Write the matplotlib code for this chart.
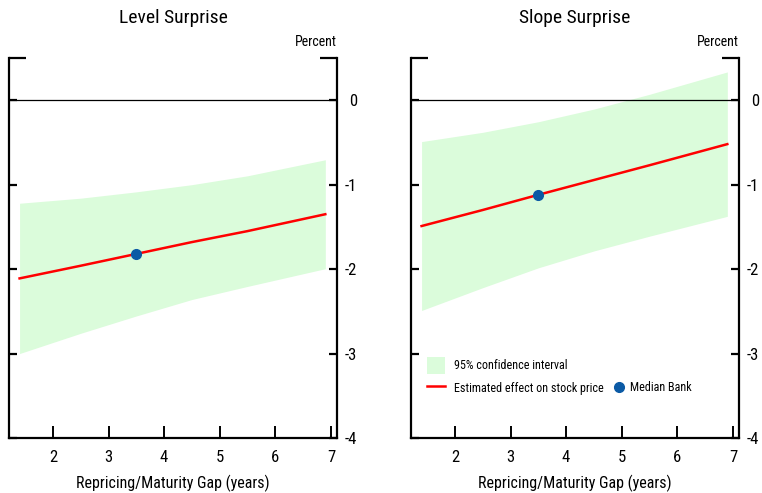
import matplotlib
matplotlib.use("Agg")
import matplotlib.pyplot as plt
from matplotlib.lines import Line2D
from matplotlib.patches import Patch

plt.rcParams['font.family'] = ['Roboto Condensed', 'Liberation Sans', 'DejaVu Sans']

# ---- data ----
gap = [1.4, 2.5, 3.5, 4.5, 5.5, 6.9]

level_effect = [-2.11, -1.96, -1.82, -1.68, -1.55, -1.35]
level_upper = [-1.22, -1.16, -1.085, -1.00, -0.895, -0.705]
level_lower = [-3.00, -2.76, -2.555, -2.36, -2.205, -1.995]
level_median = (3.49, -1.82)

slope_effect = [-1.49, -1.30, -1.12, -0.945, -0.77, -0.52]
slope_upper = [-0.49, -0.38, -0.255, -0.105, 0.07, 0.335]
slope_lower = [-2.49, -2.22, -1.985, -1.785, -1.61, -1.375]
slope_median = (3.49, -1.12)

titles = ["Level Surprise", "Slope Surprise"]
xticks = [2, 3, 4, 5, 6, 7]
yticks = [0, -1, -2, -3, -4]
xlabel = "Repricing/Maturity Gap (years)"
unit = "Percent"
legend_labels = ["95% confidence interval", "Estimated effect on stock price", "Median Bank"]

GREEN = '#dbfcdb'
RED = '#ff0000'
BLUE = '#0b5aa5'

fig = plt.figure(figsize=(7.62, 4.93), dpi=100)
W, H = 762, 493
boxes = [(9, 337), (411, 739)]
top_px, bot_px = 58, 438

panels = [
    (level_effect, level_upper, level_lower, level_median),
    (slope_effect, slope_upper, slope_lower, slope_median),
]

axes = []
for i, ((x0, x1), (eff, up, lo, med)) in enumerate(zip(boxes, panels)):
    ax = fig.add_axes([x0 / W, 1 - bot_px / H, (x1 - x0) / W, (bot_px - top_px) / H])
    axes.append(ax)
    ax.fill_between(gap, lo, up, color=GREEN, lw=0, zorder=1)
    ax.plot(gap, eff, color=RED, lw=1.8, zorder=3)
    ax.plot([med[0]], [med[1]], 'o', color=BLUE, ms=7, zorder=4)
    ax.axhline(0, color='black', lw=0.9, zorder=2)
    ax.set_xlim(1.21, 7.11)
    ax.set_ylim(-4, 0.5)
    ax.set_xticks(xticks)
    ax.set_xticklabels([str(t) for t in xticks])
    ax.set_yticks(yticks)
    ax.set_yticklabels([str(t) for t in yticks])
    ax.spines['top'].set_visible(False)
    for s in ['left', 'right', 'bottom']:
        ax.spines[s].set_linewidth(1.6)
    ax.tick_params(axis='x', direction='in', length=8.5, width=1.4, labelsize=12, pad=9, top=False)
    ax.tick_params(axis='y', direction='in', length=5.8, width=1.6, labelsize=12,
                   left=True, right=True, labelleft=False, labelright=True, pad=14.5)
    for lab in ax.get_yticklabels():
        lab.set_horizontalalignment('right')
    # top corner stubs
    ax.plot([0, 0.052], [1, 1], transform=ax.transAxes, color='black', lw=1.6, clip_on=False, solid_capstyle='butt')
    ax.plot([0.948, 1], [1, 1], transform=ax.transAxes, color='black', lw=1.6, clip_on=False, solid_capstyle='butt')
    ax.set_xlabel(xlabel, fontsize=11.5, labelpad=7)
    ax.set_title(titles[i], fontsize=14, pad=25)
    ax.text(1.0, 1.025, unit, transform=ax.transAxes, ha='right', va='bottom', fontsize=10)

# legends in right panel
ax = axes[1]
h1 = [Patch(facecolor=GREEN, edgecolor='none'), Line2D([], [], color=RED, lw=1.8)]
leg1 = ax.legend(h1, legend_labels[:2], loc='upper left', bbox_to_anchor=(0.048, 0.213),
                 frameon=False, fontsize=8.7, borderpad=0, borderaxespad=0,
                 handlelength=1.5, handleheight=1.75, handletextpad=0.75, labelspacing=0.5)
ax.add_artist(leg1)
h2 = [Line2D([], [], marker='o', color=BLUE, ls='none', ms=7)]
ax.legend(h2, legend_labels[2:], loc='center left', bbox_to_anchor=(0.619, 0.1316),
          frameon=False, fontsize=8.7, borderpad=0, borderaxespad=0,
          handlelength=0.8, handletextpad=0.5)

fig.savefig('out.png', dpi=100)
